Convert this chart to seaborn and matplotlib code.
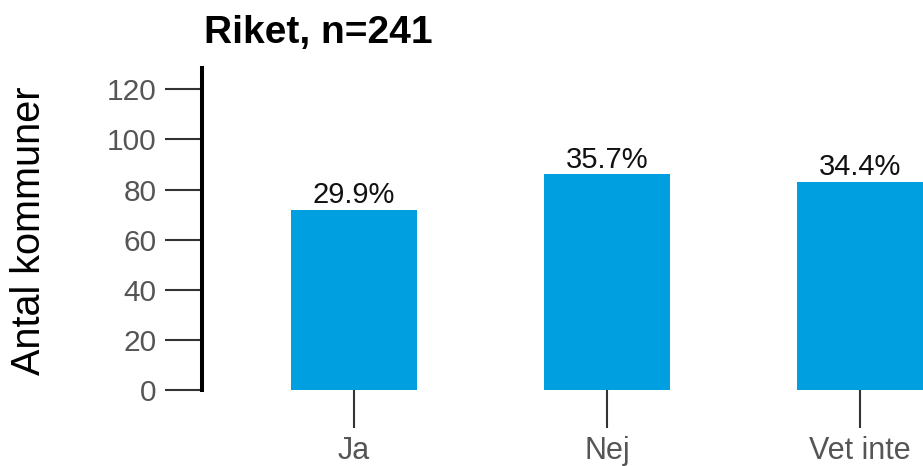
import matplotlib
matplotlib.use("Agg")
import matplotlib.pyplot as plt
import seaborn as sns
import pandas as pd

categories = ["Ja", "Nej", "Vet inte"]
counts = [72, 86, 83]
pct_labels = ["29.9%", "35.7%", "34.4%"]
title = "Riket, n=241"
ylabel = "Antal kommuner"
yticks = [0, 20, 40, 60, 80, 100, 120]

sns.set_style("white")
plt.rcParams["font.family"] = ["Liberation Sans", "DejaVu Sans"]

df = pd.DataFrame({"svar": categories, "antal": counts})

fig = plt.figure(figsize=(9.23, 4.66), dpi=100)
ax = fig.add_axes([202 / 923, 76 / 466, 1 - 202 / 923, (390 - 67.7) / 466])

sns.barplot(data=df, x="svar", y="antal", color="#009FE0", saturation=1,
            width=0.5, ax=ax, edgecolor="none")

for c in ax.containers:
    ax.bar_label(c, labels=pct_labels, padding=0.5, fontsize=21, color="#111111")

ax.set_xlim(-0.6, 2.249)
ax.set_ylim(0, 128.6)
ax.set_yticks(yticks)
ax.set_xlabel("")
ax.set_ylabel("")

for s in ["top", "right", "bottom"]:
    ax.spines[s].set_visible(False)
ax.spines["left"].set_linewidth(2.9)
ax.spines["left"].set_color("black")

ax.tick_params(axis="y", length=26.5, width=1.5, color="#333333",
               labelsize=21.5, labelcolor="#555555", pad=6, left=True)
ax.tick_params(axis="x", length=27, width=1.5, color="#333333",
               labelsize=22, labelcolor="#555555", pad=6, bottom=True)

fig.text(204 / 923, 1 - 43 / 466, title, fontsize=28, fontweight="bold",
         ha="left", va="baseline", color="black")
fig.text(29 / 923, 1 - 231 / 466, ylabel, fontsize=28.5, rotation=90,
         ha="center", va="center", color="black")

fig.savefig("out.png", dpi=100)
